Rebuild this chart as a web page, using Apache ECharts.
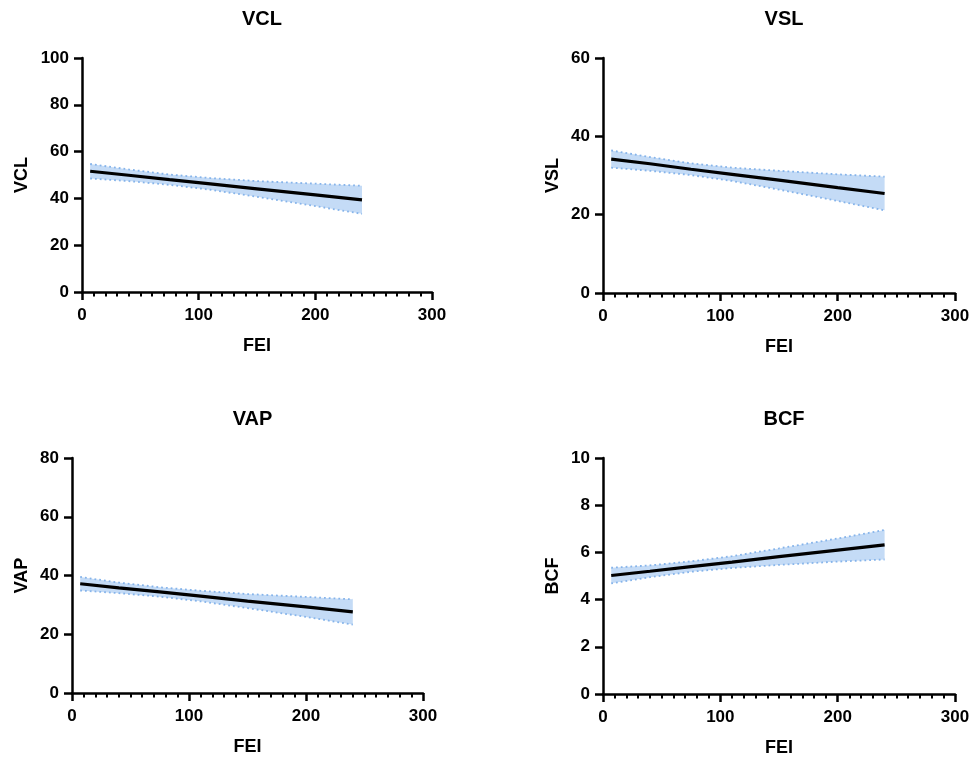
<!DOCTYPE html>
<html>
<head>
<meta charset="utf-8">
<script src="https://cdn.jsdelivr.net/npm/echarts@6/dist/echarts.min.js"></script>
<style>html,body{margin:0;padding:0;background:#fff}#c{width:973px;height:759px}</style>
</head>
<body>
<div id="c"></div>
<script>
// Shared x positions (FEI) where values were read
var feiX = [7, 40, 75, 110, 150, 200, 240];

// VCL
var vclFit   = [51.6, 49.9, 48.0, 46.2, 44.1, 41.5, 39.4];
var vclUpper = [54.7, 52.4, 50.2, 48.7, 47.4, 46.3, 45.4];
var vclLower = [48.5, 47.4, 45.8, 43.7, 40.7, 36.7, 33.4];
// VSL
var vslFit   = [34.2, 33.0, 31.6, 30.3, 28.8, 26.9, 25.4];
var vslUpper = [36.4, 34.7, 33.1, 32.0, 31.2, 30.3, 29.7];
var vslLower = [32.0, 31.2, 30.1, 28.6, 26.4, 23.5, 21.1];
// VAP
var vapFit   = [37.2, 35.8, 34.4, 33.0, 31.3, 29.3, 27.6];
var vapUpper = [39.5, 37.6, 36.0, 34.8, 33.7, 32.7, 31.9];
var vapLower = [34.9, 34.0, 32.8, 31.2, 28.9, 25.9, 23.3];
// BCF
var bcfFit   = [5.02, 5.20, 5.40, 5.59, 5.82, 6.10, 6.32];
var bcfUpper = [5.35, 5.45, 5.62, 5.84, 6.17, 6.59, 6.95];
var bcfLower = [4.69, 4.95, 5.18, 5.34, 5.47, 5.61, 5.70];

var panelTitles = ['VCL', 'VSL', 'VAP', 'BCF'];
var xAxisName = 'FEI';
var xTicks = {min: 0, max: 300, interval: 100};
var yTicks = [
  {min: 0, max: 100, interval: 20},
  {min: 0, max: 60, interval: 20},
  {min: 0, max: 80, interval: 20},
  {min: 0, max: 10, interval: 2}
];

var fits = [vclFit, vslFit, vapFit, bcfFit];
var uppers = [vclUpper, vslUpper, vapUpper, bcfUpper];
var lowers = [vclLower, vslLower, vapLower, bcfLower];

// layout (pixels)
var grids = [
  {left: 82, top: 58, width: 350, height: 234},
  {left: 603, top: 58, width: 352, height: 235},
  {left: 72, top: 458, width: 351, height: 235},
  {left: 603, top: 458, width: 352, height: 236}
];
var yNameGaps = [51, 41, 41, 41];
var FONT = '"Liberation Sans", Arial, Helvetica, sans-serif';

function pairs(xs, ys) { return xs.map(function (x, i) { return [x, ys[i]]; }); }

var option = {
  backgroundColor: '#fff',
  animation: false,
  title: [], grid: [], xAxis: [], yAxis: [], series: []
};

function makeBandRenderer(idx) {
  return function (params, api) {
    var pts = [];
    for (var k = 0; k < feiX.length; k++) pts.push(api.coord([feiX[k], uppers[idx][k]]));
    for (var k2 = feiX.length - 1; k2 >= 0; k2--) pts.push(api.coord([feiX[k2], lowers[idx][k2]]));
    return {type: 'polygon', shape: {points: pts}, style: {fill: '#c4dbf6', stroke: null}};
  };
}

for (var i = 0; i < 4; i++) {
  var g = grids[i];
  option.grid.push({left: g.left, top: g.top, width: g.width, height: g.height, containLabel: false});
  option.title.push({
    text: panelTitles[i],
    left: g.left + g.width / 2,
    top: g.top - 54,
    textAlign: 'center',
    textStyle: {fontFamily: FONT, fontSize: 20, fontWeight: 'bold', color: '#000'}
  });
  var axLine = {show: true, onZero: false, lineStyle: {color: '#000', width: 2.5}};
  option.xAxis.push({
    type: 'value', gridIndex: i, min: xTicks.min, max: xTicks.max, interval: xTicks.interval,
    name: xAxisName, nameLocation: 'middle', nameGap: 45,
    nameTextStyle: {fontFamily: FONT, fontSize: 18, fontWeight: 'bold', color: '#000'},
    axisLine: axLine,
    axisTick: {show: true, length: 8, lineStyle: {color: '#000', width: 2.5}},
    minorTick: {show: true, splitNumber: 10, length: 4.5, lineStyle: {color: '#000', width: 2}},
    splitLine: {show: false}, minorSplitLine: {show: false},
    axisLabel: {margin: 15, fontFamily: FONT, fontSize: 17, fontWeight: 'bold', color: '#000'}
  });
  option.yAxis.push({
    type: 'value', gridIndex: i, min: yTicks[i].min, max: yTicks[i].max, interval: yTicks[i].interval,
    name: panelTitles[i], nameLocation: 'middle', nameGap: yNameGaps[i], nameRotate: 90,
    nameTextStyle: {fontFamily: FONT, fontSize: 18, fontWeight: 'bold', color: '#000'},
    axisLine: axLine,
    axisTick: {show: true, length: 8, lineStyle: {color: '#000', width: 2.5}},
    splitLine: {show: false},
    axisLabel: {margin: 13, fontFamily: FONT, fontSize: 17, fontWeight: 'bold', color: '#000'}
  });
  var dotStyle = {color: '#86b4ea', width: 1.8, type: [1.8, 3]};
  option.series.push({
    type: 'custom', xAxisIndex: i, yAxisIndex: i, data: [[feiX[0], fits[i][0]]],
    renderItem: makeBandRenderer(i), z: 1, silent: true
  });
  option.series.push({
    type: 'line', xAxisIndex: i, yAxisIndex: i, symbol: 'none',
    data: pairs(feiX, lowers[i]), lineStyle: dotStyle, z: 2
  });
  option.series.push({
    type: 'line', xAxisIndex: i, yAxisIndex: i, symbol: 'none',
    data: pairs(feiX, uppers[i]), lineStyle: dotStyle, z: 2
  });
  option.series.push({
    type: 'line', xAxisIndex: i, yAxisIndex: i, symbol: 'none',
    data: pairs(feiX, fits[i]), lineStyle: {color: '#000', width: 3.2}, z: 3
  });
}

var chart = echarts.init(document.getElementById('c'), null, {renderer: 'canvas'});
chart.setOption(option);
</script>
</body>
</html>
